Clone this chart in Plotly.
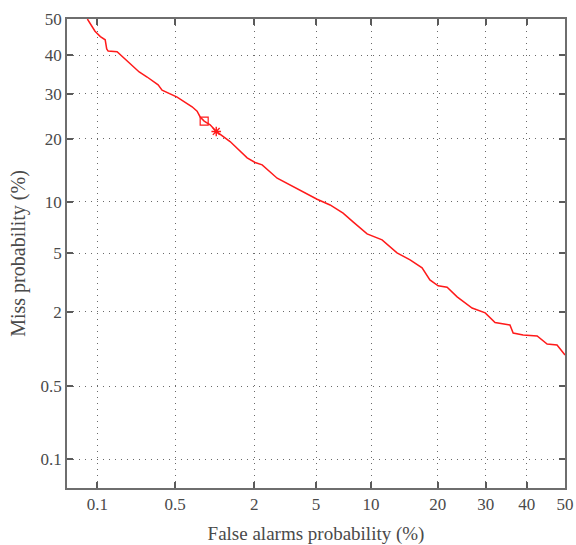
from statistics import NormalDist
import plotly.graph_objects as go

# DET curve: false-alarm rate (%) vs. miss rate (%)
fa_pct = [0.080, 0.095, 0.107, 0.119, 0.123, 0.127, 0.154, 0.191, 0.245, 0.288,
          0.359, 0.388, 0.519, 0.687, 0.753, 0.796, 0.856, 0.952, 1.06, 1.345,
          1.786, 2.03, 2.27, 2.86, 3.47, 4.18, 5.07, 6.03, 7.13, 8.07,
          9.55, 11.34, 13.35, 15.3, 17.25, 18.6, 20.1, 21.8, 23.8, 26.96,
          29.9, 32.2, 35.8, 36.6, 39.1, 42.7, 45.3, 47.9, 50.0]
miss_pct = [50.0, 46.6, 45.1, 44.2, 41.7, 41.1, 40.9, 38.4, 35.5, 34.2,
            32.2, 30.9, 29.2, 26.9, 25.9, 24.6, 23.7, 22.9, 21.5, 19.5,
            16.5, 15.7, 15.3, 13.2, 12.2, 11.3, 10.3, 9.6, 8.65, 7.73,
            6.58, 6.06, 5.04, 4.55, 4.04, 3.36, 3.06, 2.99, 2.56, 2.13,
            1.96, 1.66, 1.59, 1.38, 1.33, 1.31, 1.13, 1.11, 0.92]

# operating points highlighted on the curve
square_pt = (0.856, 23.7)
star_pt = (1.06, 21.5)

x_ticks = [0.1, 0.5, 2, 5, 10, 20, 30, 40, 50]
y_ticks = [0.1, 0.5, 2, 5, 10, 20, 30, 40, 50]
axis_limits = (0.05, 50)

nd = NormalDist()


def probit(p_pct):
    """Normal-deviate scale used by DET plots."""
    return nd.inv_cdf(p_pct / 100.0)


def fmt(v):
    return f"{v:g}"


px = [probit(v) for v in fa_pct]
py = [probit(v) for v in miss_pct]

RED = "#ff1a1a"
TEXT = "#4a4a4a"
FONT = "Liberation Serif"

fig = go.Figure()
fig.add_trace(go.Scatter(x=px, y=py, mode="lines",
                         line=dict(color=RED, width=1.5), showlegend=False))
fig.add_trace(go.Scatter(x=[probit(square_pt[0])], y=[probit(square_pt[1])],
                         mode="markers",
                         marker=dict(symbol="square-open", size=8, color=RED,
                                     line=dict(width=1.2, color=RED)),
                         showlegend=False))
fig.add_trace(go.Scatter(x=[probit(star_pt[0])], y=[probit(star_pt[1])],
                         mode="markers",
                         marker=dict(symbol="asterisk-open", size=8, color=RED,
                                     line=dict(width=1.4, color=RED)),
                         showlegend=False))

lo, hi = probit(axis_limits[0]), probit(axis_limits[1])
axis_common = dict(
    range=[lo, hi], automargin=False,
    showline=True, linecolor="#6e6e6e", linewidth=1.6, mirror="allticks",
    ticks="inside", ticklen=6, tickwidth=1.6, tickcolor="#5a5a5a",
    showgrid=True, gridcolor="#6a6a6a", gridwidth=1, griddash="1px,5px",
    zeroline=False,
    tickfont=dict(family=FONT, size=17, color=TEXT),
)

fig.update_xaxes(**axis_common,
                 tickvals=[probit(v) for v in x_ticks],
                 ticktext=[fmt(v) for v in x_ticks],
                 title=dict(text="False alarms probability (%)",
                            font=dict(family=FONT, size=19, color=TEXT),
                            standoff=14))
fig.update_yaxes(**axis_common,
                 tickvals=[probit(v) for v in y_ticks],
                 ticktext=[fmt(v) for v in y_ticks],
                 title=dict(text="Miss probability (%)",
                            font=dict(family=FONT, size=20, color=TEXT),
                            standoff=10))

fig.update_layout(
    width=576, height=545,
    margin=dict(l=67, r=11, t=19, b=57),
    paper_bgcolor="white", plot_bgcolor="white",
    font=dict(family=FONT, color=TEXT),
)

fig.write_html("out.html")
